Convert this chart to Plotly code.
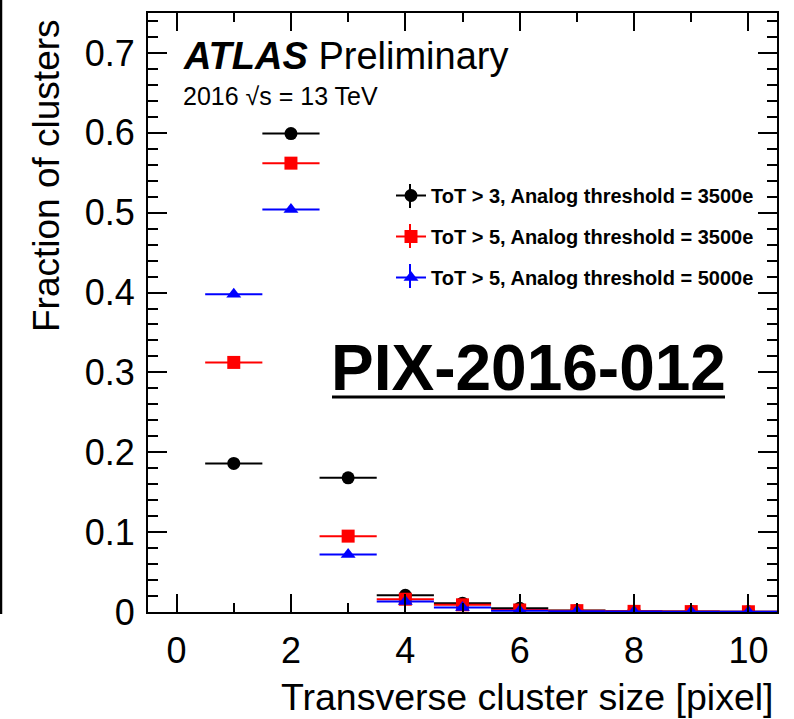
import plotly.graph_objects as go

# Transverse cluster size (pixels) and the fraction of clusters in each bin
cluster_size = [1, 2, 3, 4, 5, 6, 7, 8, 9, 10]
frac_tot3_3500 = [0.186, 0.599, 0.168, 0.021, 0.011, 0.0046, 0.002, 0.001, 0.0005, 0.0003]
frac_tot5_3500 = [0.3125, 0.562, 0.095, 0.016, 0.009, 0.0025, 0.0017, 0.0008, 0.0005, 0.0003]
frac_tot5_5000 = [0.398, 0.504, 0.072, 0.013, 0.0055, 0.0015, 0.001, 0.0005, 0.0004, 0.0002]
bin_half_width = 0.5

series_names = [
    "ToT > 3, Analog threshold = 3500e",
    "ToT > 5, Analog threshold = 3500e",
    "ToT > 5, Analog threshold = 5000e",
]
series_values = [frac_tot3_3500, frac_tot5_3500, frac_tot5_5000]
series_colors = ["#000000", "#ff0000", "#0000ff"]
series_symbols = ["circle", "square", "triangle-up"]

W, H = 794, 719
L, R, T, B = 148, 777, 13, 612  # frame edges in pixels
FONT = "Liberation Sans, Arial, Helvetica, sans-serif"


def px(xp):
    return (xp - L) / (R - L)


def py(yp):
    return (B - yp) / (B - T)


fig = go.Figure()

for name, vals, col, sym in zip(series_names, series_values, series_colors, series_symbols):
    fig.add_trace(go.Scatter(
        x=cluster_size, y=vals, mode="markers", showlegend=False,
        marker=dict(symbol=sym, size=13, color=col, line=dict(width=0)),
        error_x=dict(type="constant", value=bin_half_width, color=col, thickness=2, width=0),
    ))

for i, (name, col, sym) in enumerate(zip(series_names, series_colors, series_symbols)):
    fig.add_trace(go.Scatter(
        x=[None], y=[None], mode="lines+markers", name=name, legendgroup=f"g{i}",
        marker=dict(symbol=sym, size=13, color=col, line=dict(width=0)),
        line=dict(color=col, width=2),
    ))

axis_common = dict(
    showline=True, linecolor="black", linewidth=2, mirror=False,
    ticks="inside", tickcolor="black", tickwidth=1.5,
    showgrid=False, zeroline=False,
)

fig.update_layout(
    width=W, height=H,
    margin=dict(l=L, r=W - R, t=T, b=H - B),
    paper_bgcolor="white", plot_bgcolor="white",
    font=dict(family=FONT, color="black"),
    xaxis=dict(range=[-0.5, 10.5], tickvals=[0, 2, 4, 6, 8, 10], ticklen=18,
               minor=dict(tickvals=[1, 3, 5, 7, 9], ticklen=9, ticks="inside", tickcolor="black", tickwidth=1.5),
               tickfont=dict(size=36), ticklabelstandoff=6, **axis_common),
    yaxis=dict(range=[0, 0.75], dtick=0.1, tick0=0, ticklen=19,
               minor=dict(dtick=0.02, ticklen=10, ticks="inside", tickcolor="black", tickwidth=1.5),
               tickfont=dict(size=36), ticklabelstandoff=4, **axis_common),
    xaxis2=dict(range=[-0.5, 10.5], overlaying="x", side="top", tickvals=[0, 2, 4, 6, 8, 10], ticklen=18,
                minor=dict(tickvals=[1, 3, 5, 7, 9], ticklen=9, ticks="inside", tickcolor="black", tickwidth=1.5),
                showticklabels=False, **axis_common),
    yaxis2=dict(range=[0, 0.75], overlaying="y", side="right", dtick=0.1, tick0=0, ticklen=19,
                minor=dict(dtick=0.02, ticklen=10, ticks="inside", tickcolor="black", tickwidth=1.5),
                showticklabels=False, **axis_common),
    legend=dict(x=px(391), y=py(176), xanchor="left", yanchor="top",
                font=dict(size=20, family=FONT, weight="bold"), bgcolor="rgba(0,0,0,0)",
                traceorder="grouped", tracegroupgap=12, itemwidth=30),
    showlegend=True,
)

# keep the mirrored axes drawn
fig.add_trace(go.Scatter(x=[None], y=[None], xaxis="x2", yaxis="y2", showlegend=False))

annotations = [
    dict(text="<b><i>ATLAS</i></b> Preliminary", x=px(181), y=py(56), xanchor="left", yanchor="middle",
         font=dict(size=38)),
    dict(text="2016 \u221as = 13 TeV", x=px(181), y=py(96), xanchor="left", yanchor="middle",
         font=dict(size=25)),
    dict(text="<b>PIX-2016-012</b>", x=px(528), y=py(368), xanchor="center", yanchor="middle",
         font=dict(size=64)),
    dict(text="Transverse cluster size [pixel]", x=px(776), y=py(697), xanchor="right", yanchor="middle",
         font=dict(size=37.5)),
    dict(text="Fraction of clusters", x=px(46), y=py(176), xanchor="center", yanchor="middle",
         textangle=-90, font=dict(size=37)),
]
for a in annotations:
    a.update(xref="paper", yref="paper", showarrow=False)
fig.update_layout(annotations=annotations)

shapes = [
    # underline of the note label
    dict(type="line", xref="paper", yref="paper", x0=px(332), x1=px(725), y0=py(397), y1=py(397),
         line=dict(color="black", width=3)),
    # dark edge on the left side of the page
    dict(type="line", xref="paper", yref="paper", x0=px(1), x1=px(1), y0=py(0), y1=py(614),
         line=dict(color="black", width=2.5)),
]
# vertical ticks through the legend keys
for col, yc in zip(series_colors, [196, 236, 276]):
    shapes.append(dict(type="line", xref="paper", yref="paper", x0=px(410), x1=px(410),
                       y0=py(yc - 12), y1=py(yc + 12), line=dict(color=col, width=2)))
fig.update_layout(shapes=shapes)

fig.write_html("out.html")
